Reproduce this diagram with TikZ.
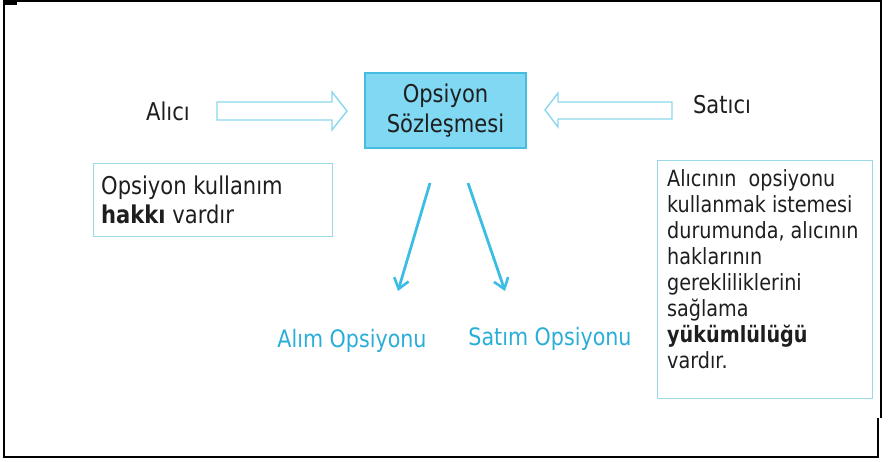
\documentclass[tikz,border=0pt]{standalone}
\usepackage{fontspec}
\setmainfont[FakeStretch=0.86]{DejaVu Sans}
\usetikzlibrary{arrows.meta,calc}
\definecolor{cfill}{HTML}{80D8F2}
\definecolor{cedge}{HTML}{45BCE0}
\definecolor{hollowc}{HTML}{8AD7EC}
\definecolor{boxc}{HTML}{9AD8E8}
\definecolor{darrc}{HTML}{3CBDE4}
\definecolor{labc}{HTML}{2AADD8}
\definecolor{txt}{HTML}{1E1E1E}
\tikzset{
  central/.style={draw=cedge, fill=cfill, line width=1.5pt, minimum width=161pt, minimum height=75pt, align=center, text=txt, font=\fontsize{24.5}{30}\selectfont, inner sep=0pt},
  party/.style={text=txt, font=\fontsize{24.5}{30}\selectfont, inner sep=0pt},
  hollow/.style={draw=hollowc, line width=1.4pt, line join=miter},
  infobox/.style={draw=boxc, line width=1.4pt, inner sep=0pt},
  infotext/.style={text=txt, align=left, inner sep=0pt},
  darr/.style={draw=darrc, line width=2.8pt, -{Straight Barb[length=10pt,width=15pt,line width=2.6pt]}},
  optlabel/.style={text=labc, font=\fontsize{24}{28}\selectfont, inner sep=0pt},
  frame/.style={draw=black, line width=2pt}
}
\begin{document}
\begin{tikzpicture}[x=1pt,y=-1pt]
\useasboundingbox (0,0) rectangle (890,462);
% outer frame
\draw[frame] (881,418) -- (881,1.5) -- (4,1.5) -- (4,457) -- (878,457) -- (878,418);
\fill[black] (4,1) rectangle (17,5);
% central box
\node[central] (contract) at (445.5,110.5) {Opsiyon\\Sözleşmesi};
% parties
\node[party] (buyer) at (168,111) {Alıcı};
\node[party] (seller) at (722,104.5) {Satıcı};
% hollow arrows
\draw[hollow] (217,102) -- (332,102) -- (332,92) -- (347,111) -- (332,130) -- (332,120) -- (217,120) -- cycle;
\draw[hollow] (672,102) -- (558,102) -- (558,93) -- (545,110) -- (558,127) -- (558,119) -- (672,119) -- cycle;
% info boxes
\node[infobox, minimum width=239pt, minimum height=73pt, anchor=north west] (leftbox) at (93,163) {};
\node[infotext, anchor=north west, font=\fontsize{24.5}{29}\selectfont] (lefttext) at (101,175.5) {Opsiyon kullanım\\\textbf{hakkı} vardır};
\node[infobox, minimum width=215pt, minimum height=238pt, anchor=north west] (rightbox) at (657,160) {};
\node[infotext, anchor=north west, font=\fontsize{22.3}{26.1}\selectfont] (righttext) at (667,169) {Alıcının\ \ opsiyonu\\kullanmak istemesi\\durumunda, alıcının\\haklarının\\gerekliliklerini\\sağlama\\\textbf{yükümlülüğü}\\vardır.};
% option labels
\node[optlabel] (call) at (352,340.5) {Alım Opsiyonu};
\node[optlabel] (put) at (550,338.5) {Satım Opsiyonu};
% down arrows
\coordinate (c1s) at (430,183);
\coordinate (c1e) at (398,291);
\coordinate (c2s) at (468,183);
\coordinate (c2e) at (505,291);
\draw[darr] (c1s) -- (c1e);
\draw[darr] (c2s) -- (c2e);
\end{tikzpicture}
\end{document}
